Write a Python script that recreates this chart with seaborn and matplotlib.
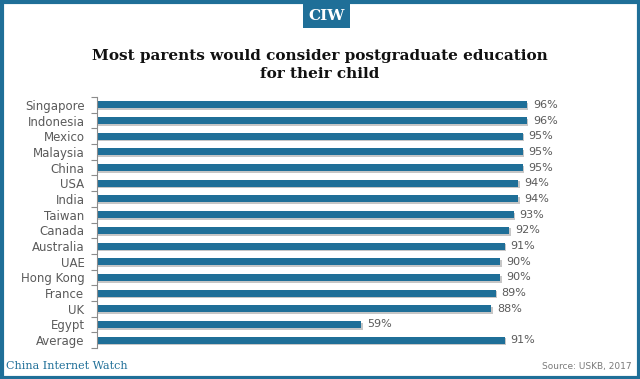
import matplotlib
matplotlib.use("Agg")
import matplotlib.pyplot as plt
import matplotlib.patheffects as pe
from matplotlib.patches import Rectangle
import seaborn as sns
import pandas as pd
import numpy as np

# veriler
countries = ["Singapore", "Indonesia", "Mexico", "Malaysia", "China", "USA", "India",
             "Taiwan", "Canada", "Australia", "UAE", "Hong Kong", "France", "UK",
             "Egypt", "Average"]
values = [96, 96, 95, 95, 95, 94, 94, 93, 92, 91, 90, 90, 89, 88, 59, 91]

teal = "#1f6f98"
gray = "#5a5a5a"

df = pd.DataFrame({"country": countries, "value": values})

sns.set_style("white")
plt.rcParams["font.family"] = ["DejaVu Sans"]

fig = plt.figure(figsize=(6.4, 3.79), dpi=100)
ax = fig.add_axes([97 / 640, 1 - 348 / 379, (600 - 97) / 640, (348 - 97) / 379])

sns.barplot(data=df, x="value", y="country", orient="h", color=teal,
            width=0.45, saturation=1, linewidth=0, ax=ax)

# hafif golge
for p in ax.patches:
    p.set_path_effects([pe.SimplePatchShadow(offset=(1.0, -1.2), shadow_rgbFace="#444444", alpha=0.3),
                        pe.Normal()])

for i, v in enumerate(values):
    ax.text(v + 1.3, i, f"{v}%", va="center", ha="left", fontsize=8, color=gray)

ax.set_xlim(0, (600 - 97) / 4.48)
ax.set_ylim(len(countries) - 0.5, -0.5)
ax.set_xlabel("")
ax.set_ylabel("")
ax.set_xticks([])
ax.tick_params(axis="y", which="major", length=0, labelsize=8.5, labelcolor=gray, pad=9)
ax.set_yticks(np.arange(-0.5, len(countries), 1), minor=True)
ax.tick_params(axis="y", which="minor", left=True, length=4, color="#8c8c8c", width=0.8, direction="out")
for s in ["top", "right", "bottom"]:
    ax.spines[s].set_visible(False)
ax.spines["left"].set_color("#8c8c8c")
ax.spines["left"].set_linewidth(0.8)
ax.set_facecolor("none")

# baslik
fig.text(0.5, 1 - 65 / 379, "Most parents would consider postgraduate education\nfor their child",
         ha="center", va="center", fontsize=11, fontweight="bold", family="DejaVu Serif",
         color="#111111", linespacing=1.3)

# cerceve
fig.patches.append(Rectangle((1.5 / 640, 1.5 / 379), 637 / 640, 376 / 379, transform=fig.transFigure,
                             fill=False, edgecolor=teal, linewidth=3))
fig.patches.append(Rectangle((303 / 640, 1 - 28 / 379), 47 / 640, 25 / 379, transform=fig.transFigure,
                             facecolor=teal, edgecolor="none", zorder=5))
fig.text(326.5 / 640, 1 - 15.5 / 379, "CIW", ha="center", va="center", color="white",
         fontsize=11, fontweight="bold", family="DejaVu Serif", zorder=6)

# alt yazilar
fig.text(6 / 640, 1 - 366 / 379, "China Internet Watch", ha="left", va="center", color=teal,
         fontsize=8, family="DejaVu Serif")
fig.text(632 / 640, 1 - 366 / 379, "Source: USKB, 2017", ha="right", va="center", color="#7a7a7a",
         fontsize=6.5)

fig.savefig("out.png", dpi=100)
